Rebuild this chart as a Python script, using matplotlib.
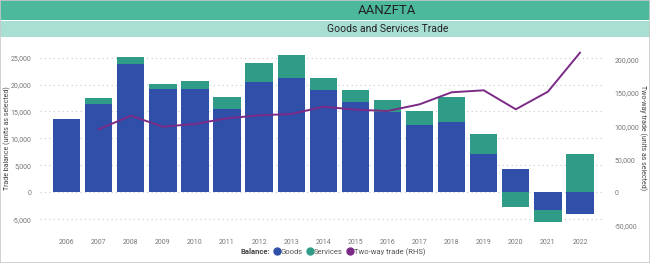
import numpy as np
import matplotlib
matplotlib.use("Agg")
import matplotlib.pyplot as plt
from matplotlib.lines import Line2D
from matplotlib.patches import Rectangle

plt.rcParams["font.family"] = ["Roboto", "DejaVu Sans"]

years = [str(y) for y in range(2006, 2023)]
goods = [13600, 16400, 23850, 19150, 19100, 15400, 20500, 21300, 19050,
         16800, 14950, 12500, 13100, 7100, 4250, -3300, -4050]
services = [0, 1100, 1250, 870, 1550, 2300, 3550, 4200, 2150,
            2250, 2150, 2650, 4600, 3650, -2800, -2150, 7050]
two_way = [np.nan, 95200, 115800, 99200, 103300, 111900, 116400, 118400, 129400,
           124900, 122900, 133000, 151200, 154200, 125500, 152100, 211000]

c_goods = "#2f4fa8"
c_serv = "#2f9c87"
c_line = "#7b2a86"
c_tick = "#777777"

fig = plt.figure(figsize=(6.5, 2.63), dpi=100)

# header bands
fig.patches.append(Rectangle((0, 1 - 20 / 263), 1, 20 / 263, transform=fig.transFigure,
                             facecolor="#4cb99c", edgecolor="none", zorder=0))
fig.patches.append(Rectangle((0, 1 - 37 / 263), 1, 16 / 263, transform=fig.transFigure,
                             facecolor="#a9dfd3", edgecolor="none", zorder=0))
fig.patches.append(Rectangle((0, 0), 1, 1, transform=fig.transFigure,
                             facecolor="none", edgecolor="#c8c8c8", lw=1.2, zorder=0))
fig.text(0.596, 1 - 10 / 263, "AANZFTA", ha="center", va="center",
         fontsize=9.5, color="#222222")
fig.text(0.596, 1 - 29 / 263, "Goods and Services Trade", ha="center", va="center",
         fontsize=7.5, color="#222222")

ax = fig.add_axes([40 / 650, 35 / 263, 565 / 650, 183 / 263])
x = np.arange(len(years))
g = np.array(goods, dtype=float)
s = np.array(services, dtype=float)
# services stack on goods when same sign, otherwise start at zero
s_bottom = np.where(np.sign(s) == np.sign(g), g, 0)
ax.bar(x, g, width=0.85, color=c_goods, zorder=2)
ax.bar(x, s, bottom=s_bottom, width=0.85, color=c_serv, zorder=2)

ax.set_xlim(-0.83, 16.78)
ax.set_ylim(-6620, 27330)
ax.set_yticks(range(-5000, 25001, 5000))
ax.set_yticklabels([f"{v:,}" for v in range(-5000, 25001, 5000)])
ax.set_xticks(x)
ax.set_xticklabels(years)
ax.grid(axis="y", color="#c8c8c8", linestyle=(0, (1, 3)), lw=0.8, zorder=0)
ax.tick_params(length=0, labelsize=5, colors=c_tick, pad=6)
ax.tick_params(axis="x", pad=8)
for sp in ax.spines.values():
    sp.set_visible(False)

ax2 = ax.twinx()
ax2.plot(x, two_way, color=c_line, lw=1.4, zorder=3)
ax2.set_ylim(-53970, 222700)
ax2.set_yticks(range(-50000, 200001, 50000))
ax2.set_yticklabels([f"{v:,}" for v in range(-50000, 200001, 50000)])
ax2.tick_params(length=0, labelsize=5, colors=c_tick, pad=7)
for sp in ax2.spines.values():
    sp.set_visible(False)

fig.text(7 / 650, 1 - 138 / 263, "Trade balance (units as selected)", rotation=90,
         ha="center", va="center", fontsize=5, color="#444444")
fig.text(643 / 650, 1 - 138 / 263, "Two-way trade (units as selected)", rotation=270,
         ha="center", va="center", fontsize=5, color="#444444")

# legend
fig.text(270 / 650, 1 - 252 / 263, "Balance:", ha="right", va="center",
         fontsize=5.5, fontweight="bold", color="#444444")
handles = [Line2D([], [], marker="o", ls="", color=c, markersize=5)
           for c in (c_goods, c_serv, c_line)]
fig.legend(handles, ["Goods", "Services", "Two-way trade (RHS)"],
           loc="center left", bbox_to_anchor=(269 / 650, 1 - 252 / 263), ncol=3,
           frameon=False, fontsize=5.5, handletextpad=0.05, columnspacing=0.4,
           handlelength=1.0, borderpad=0, labelcolor="#555555")

fig.savefig("out.png", dpi=100)
